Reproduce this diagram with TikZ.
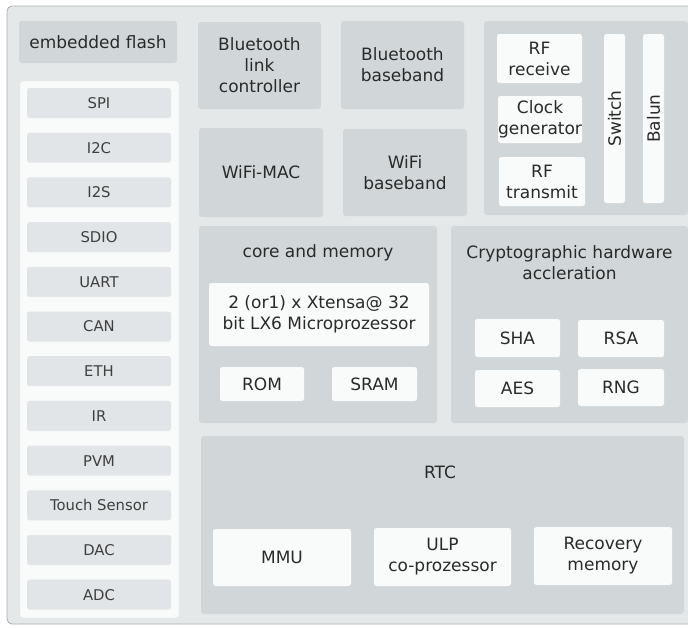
\documentclass[tikz,border=0pt]{standalone}
\usepackage{fontspec}
\setmainfont{DejaVu Sans}
\usepackage{tikz}

\definecolor{chipbg}{HTML}{E5E8E9}
\definecolor{chipframe}{HTML}{ABAEB0}
\definecolor{unitgray}{HTML}{D1D7D9}
\definecolor{periphgray}{HTML}{E1E5E7}
\definecolor{paper}{HTML}{F9FAFA}
\definecolor{ink}{HTML}{2A2A2A}

\begin{document}
\begin{tikzpicture}[
  x=1pt, y=-1pt,
  every node/.style={inner sep=0pt, outer sep=0pt, align=center, text=ink,
    font=\fontsize{17}{21}\selectfont},
  unit/.style={fill=unitgray, rounded corners=3pt},
  cell/.style={fill=paper, rounded corners=2.5pt},
  periph/.style={fill=periphgray, rounded corners=2.5pt,
    minimum width=144, minimum height=30,
    font=\fontsize{14.8}{17}\selectfont, text=ink!90},
  title/.style={fill=none}
]
\useasboundingbox (0,0) rectangle (688,627);

% chip outline
\draw[chipframe, fill=chipbg, rounded corners=5pt, line width=0.8pt] (7,6) rectangle (700,624);

\node[unit, minimum width=158, minimum height=42] (flash) at (98,42) {embedded flash};

% peripherals
\node[fill=paper, draw=periphgray, rounded corners=3pt,
  minimum width=159, minimum height=537] (periphs) at (99.5,349.5) {};
\foreach \name [count=\i from 0] in {SPI,I2C,I2S,SDIO,UART,CAN,ETH,IR,PVM,Touch Sensor,DAC,ADC}
  \node[periph] (periph\i) at (99,103+44.7*\i) {\name};

% radio
\node[unit, minimum width=123, minimum height=87] (btlink) at (259.5,65.5) {Bluetooth\\link\\controller};
\node[unit, minimum width=123, minimum height=88] (btbase) at (402.5,65) {Bluetooth\\baseband};
\node[unit, minimum width=124, minimum height=89] (wifimac) at (261,172.5) {WiFi-MAC};
\node[unit, minimum width=124, minimum height=87] (wifibase) at (405,172.5) {WiFi\\baseband};

\node[unit, minimum width=204, minimum height=194] (rf) at (586,118) {};
\node[cell, minimum width=85, minimum height=49] (rfrx) at (539.5,58.5) {RF\\receive};
\node[cell, minimum width=84, minimum height=47] (clock) at (540,119.5) {Clock\\generator};
\node[cell, minimum width=86, minimum height=49] (rftx) at (542,181.5) {RF\\transmit};
\node[cell, minimum width=21, minimum height=169] (switch) at (614.5,118.5) {};
\node[rotate=90] (switchlbl) at (switch.center) {Switch};
\node[cell, minimum width=21, minimum height=169] (balun) at (653.5,118.5) {};
\node[rotate=90] (balunlbl) at (balun.center) {Balun};

% core and memory
\node[unit, minimum width=238, minimum height=197] (core) at (318,324.5) {};
\node[title] (coretitle) at (318,253) {core and memory};
\node[cell, minimum width=220, minimum height=63] (cpu) at (319,314.5) {2 (or1) x Xtensa@ 32\\bit LX6 Microprozessor};
\node[cell, minimum width=84, minimum height=34] (rom) at (262,384) {ROM};
\node[cell, minimum width=85, minimum height=34] (sram) at (374.5,384) {SRAM};

% crypto
\node[unit, minimum width=237, minimum height=197] (crypto) at (569.5,324.5) {};
\node[title] (cryptotitle) at (569.5,263) {Cryptographic hardware\\accleration};
\node[cell, minimum width=85, minimum height=38] (sha) at (517.5,338) {SHA};
\node[cell, minimum width=86, minimum height=37] (rsa) at (621,338.5) {RSA};
\node[cell, minimum width=85, minimum height=37] (aes) at (517.5,388.5) {AES};
\node[cell, minimum width=86, minimum height=37] (rng) at (621,387.5) {RNG};

% RTC
\node[unit, minimum width=483, minimum height=178] (rtc) at (442.5,525) {};
\node[title] (rtctitle) at (440,472) {RTC};
\node[cell, minimum width=138, minimum height=57] (mmu) at (282,557.5) {MMU};
\node[cell, minimum width=137, minimum height=58] (ulp) at (442.5,557) {ULP\\co-prozessor};
\node[cell, minimum width=138, minimum height=58] (recovery) at (603,556) {Recovery\\memory};
\end{tikzpicture}
\end{document}
